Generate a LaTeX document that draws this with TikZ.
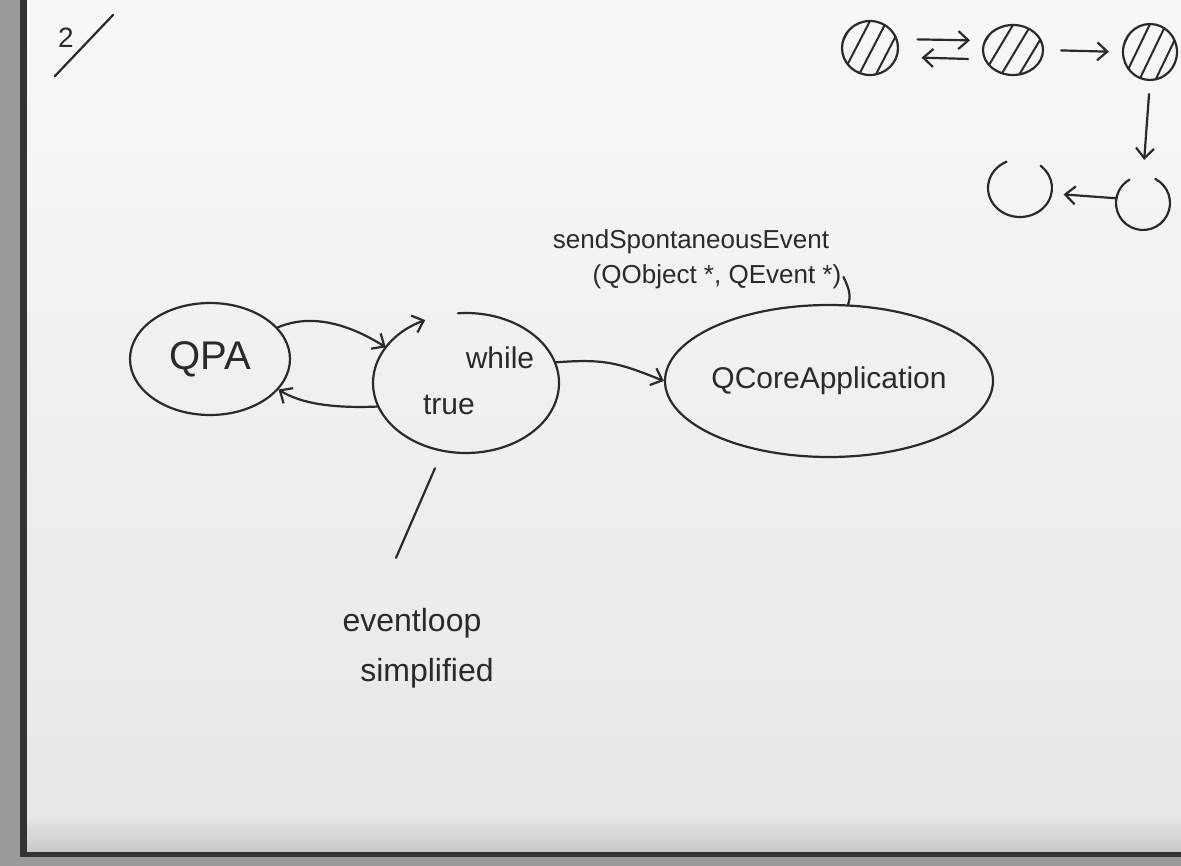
\documentclass[tikz,border=0pt]{standalone}
\usepackage{fontspec}
\setmainfont{Liberation Sans}
\usetikzlibrary{arrows.meta,shapes.geometric,calc}
\definecolor{ink}{HTML}{2A2A2A}
\definecolor{paper}{HTML}{F3F3F3}
\definecolor{paperlow}{HTML}{E8E8E8}
\definecolor{rim}{HTML}{9A9A9A}
\definecolor{rimdark}{HTML}{333333}
\tikzset{
  inkline/.style={draw=ink, line width=2.2pt, line cap=round, line join=round},
  arr/.style={inkline, -{Straight Barb[length=10pt,width=18pt]}},
  bubble/.style={ellipse, draw=ink, line width=2.2pt, inner sep=0pt},
  ghost/.style={ellipse, inner sep=0pt},
  hand/.style={text=ink, inner sep=2pt},
  big/.style={font=\fontsize{40}{46}\selectfont},
  mid/.style={font=\fontsize{30}{36}\selectfont},
  small/.style={font=\fontsize{26}{30}\selectfont},
  note/.style={font=\fontsize{32}{38}\selectfont},
  hatched/.style={ellipse, draw=ink, line width=2.2pt, inner sep=0pt,
    path picture={
      \foreach \a/\b in {-0.3/0.2, 0.0/0.5, 0.3/0.8, 0.6/1.1}{
        \draw[ink, line width=2pt]
          ($(path picture bounding box.south west)!\a!(path picture bounding box.south east)$) --
          ($(path picture bounding box.north west)!\b!(path picture bounding box.north east)$);
      }}}
}
\begin{document}
\begin{tikzpicture}[x=1pt,y=1pt,yscale=-1]
\useasboundingbox (0,0) rectangle (1181,866);
% scanned page background
\fill[paper] (0,0) rectangle (1181,866);
\shade[top color=white!97!black, bottom color=paperlow] (27,0) rectangle (1181,815);
\shade[top color=paperlow, bottom color=rim!55!white] (27,815) rectangle (1181,852);
\fill[rim] (0,0) rectangle (21,866);
\fill[rimdark] (20,0) rectangle (27,858);
\fill[rimdark] (20,852) rectangle (1181,857);
\fill[rim] (0,857) rectangle (1181,866);

% page number
\node[hand, font=\fontsize{28}{32}\selectfont] (pg) at (66,38) {2};
\draw[inkline] (55,76) -- (113,15);

% main nodes
\node[bubble, minimum width=160pt, minimum height=112pt,
      label={[hand,big]center:QPA}] (qpa) at (210,359) {};
\node[ghost, minimum width=186pt, minimum height=140pt] (loop) at (466,383) {};
\draw[arr] ($(loop.center)+(265:93 and 70)$) arc[start angle=265, end angle=604, x radius=93, y radius=70];
\node[hand, mid] (twhile) at (500,358) {while};
\node[hand, mid] (ttrue) at (449,405) {true};
\node[bubble, minimum width=328pt, minimum height=152pt,
      label={[hand,mid]center:QCoreApplication}] (qcore) at (829,381) {};

% labels
\node[hand, small] (sse1) at (691,242) {sendSpontaneousEvent};
\node[hand, small] (sse2) at (717,277) {(QObject *, QEvent *)};
\node[hand, note] (evl) at (412,623) {eventloop};
\node[hand, note] (simp) at (427,673) {simplified};

% connectors
\draw[arr] (qpa.25) .. controls +(35,-15) and +(-35,-22) .. (loop.156);
\draw[arr] (loop.195) .. controls +(-45,2) and +(22,14) .. (qpa.-24);
\draw[arr] (loop.13) .. controls +(50,-4) and +(-45,-18) .. (qcore.west);
\draw[inkline] (sse2.east) .. controls +(6,12) and +(3,-8) .. (qcore.76);
\draw[inkline] ($(evl.north)+(-16,-48)$) -- ($(loop.south)+(-31,15)$);

% top-right sketch
\node[hatched, minimum width=56pt, minimum height=54pt] (h1) at (870,48) {};
\node[hatched, minimum width=60pt, minimum height=50pt] (h2) at (1013,50) {};
\node[hatched, minimum width=54pt, minimum height=56pt] (h3) at (1150,52) {};
\node[ghost, minimum width=54pt, minimum height=54pt] (o1) at (1143,203) {};
\node[ghost, minimum width=64pt, minimum height=58pt] (o2) at (1020,188) {};
\draw[inkline] ($(o1.center)+(297:27 and 27)$) arc[start angle=297, end angle=600, x radius=27, y radius=27];
\draw[inkline] ($(o2.center)+(310:32 and 29)$) arc[start angle=310, end angle=605, x radius=32, y radius=29];

\draw[arr, shorten <=20pt, shorten >=14pt] (h1.18) -- (h2.162);
\draw[arr, shorten <=16pt, shorten >=24pt] (h2.198) -- (h1.-18);
\draw[arr, shorten <=17pt, shorten >=13pt] (h2.east) -- (h3.west);
\draw[arr, shorten <=13pt, shorten >=16pt] (h3.south) -- (o1.north);
\draw[arr, shorten >=12pt] (o1.170) -- (o2.-10);
\end{tikzpicture}
\end{document}
